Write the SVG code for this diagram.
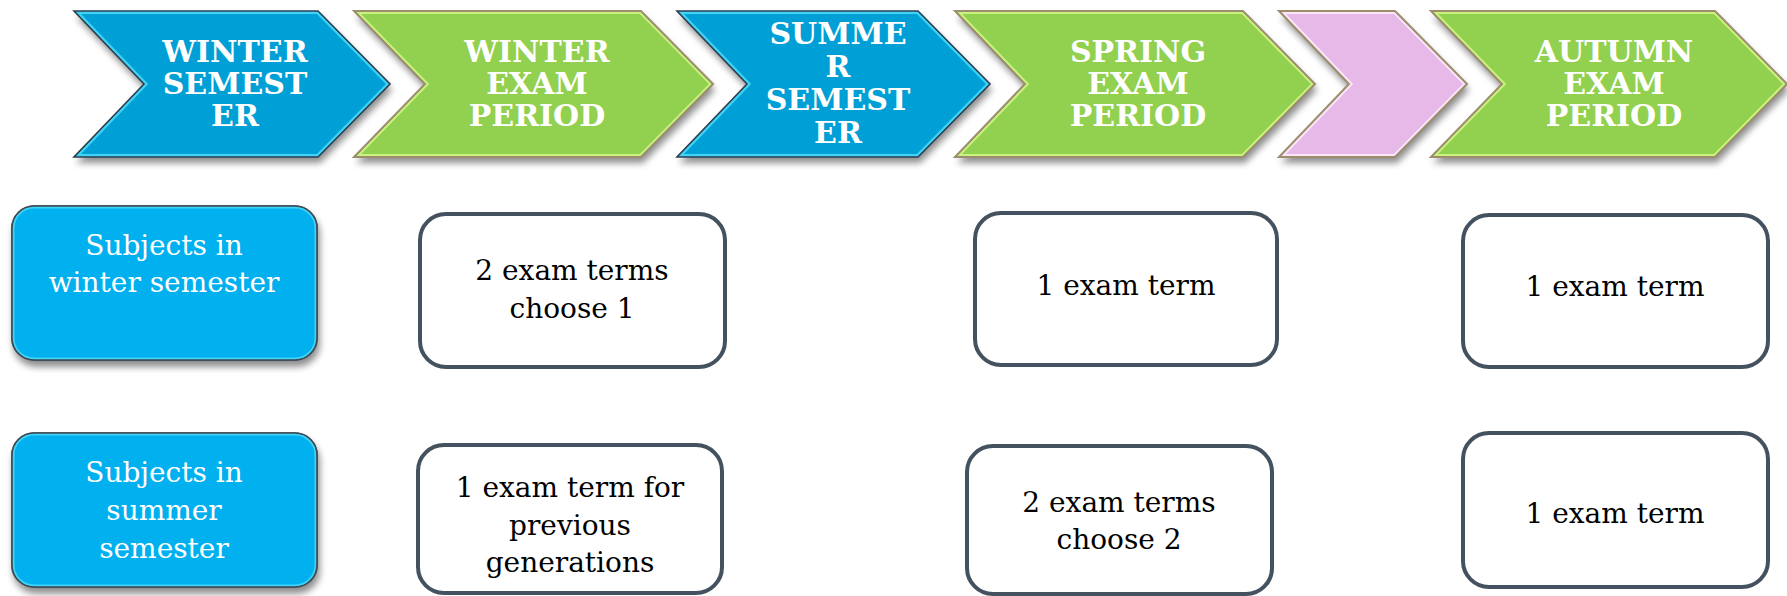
<svg xmlns="http://www.w3.org/2000/svg" width="1787" height="596" viewBox="0 0 1787 596">
<style>
.ct{font-family:'DejaVu Serif','Liberation Serif',serif;font-weight:bold;font-size:30px;fill:#ffffff;text-anchor:middle}
.bt{font-family:'DejaVu Serif','Liberation Serif',serif;font-size:28px;fill:#000000;text-anchor:middle}
.wt{font-family:'DejaVu Serif','Liberation Serif',serif;font-size:28px;fill:#ffffff;text-anchor:middle}
.blue{fill:#019fd5}
.green{fill:#92d050}
.pink{fill:#e7b9e9}
.olB{fill:none;stroke:#2b3e52;stroke-width:1.6}
.olG{fill:none;stroke:#9c8d6c;stroke-width:2}
.glB{fill:none;stroke:#3fd4f5;stroke-width:6}
.glG{fill:none;stroke:#c9f27f;stroke-width:6}
.glP{fill:none;stroke:#fbe6fb;stroke-width:6}
.wbox{fill:#ffffff;stroke:#44525f;stroke-width:4}
.bbox{fill:#00b0ef;stroke:#3f4a55;stroke-width:1.6}
</style>
<defs>
<filter id="sh" x="-10%" y="-20%" width="120%" height="150%">
<feGaussianBlur in="SourceAlpha" stdDeviation="3.5"/>
<feOffset dx="2" dy="6" result="b"/>
<feComponentTransfer><feFuncA type="linear" slope="0.45"/></feComponentTransfer>
<feMerge><feMergeNode/><feMergeNode in="SourceGraphic"/></feMerge>
</filter>
<polygon id="c1" points="74,11 318,11 390,84 318,157 74,157 144,84"/>
<polygon id="c2" points="354,11 641,11 713,84 641,157 354,157 425,84"/>
<polygon id="c3" points="677,11 918,11 990,84 918,157 677,157 747,84"/>
<polygon id="c4" points="955,11 1243,11 1315,84 1243,157 955,157 1025,84"/>
<polygon id="c5" points="1279,11 1395,11 1467,84 1395,157 1279,157 1349,84"/>
<polygon id="c6" points="1431,11 1715,11 1787,84 1715,157 1431,157 1502,84"/>
<rect id="b1" x="12" y="206" width="305" height="154" rx="22"/>
<rect id="b2" x="12" y="433" width="305" height="154" rx="22"/>
<clipPath id="k1"><use href="#c1"/></clipPath>
<clipPath id="k2"><use href="#c2"/></clipPath>
<clipPath id="k3"><use href="#c3"/></clipPath>
<clipPath id="k4"><use href="#c4"/></clipPath>
<clipPath id="k5"><use href="#c5"/></clipPath>
<clipPath id="k6"><use href="#c6"/></clipPath>
<clipPath id="kb1"><use href="#b1"/></clipPath>
<clipPath id="kb2"><use href="#b2"/></clipPath>
</defs>

<g id="chevron-winter-semester">
<use href="#c1" class="blue" filter="url(#sh)"/>
<use href="#c1" class="glB" clip-path="url(#k1)"/>
<use href="#c1" class="olB"/>
<text class="ct" x="235" y="62">WINTER<tspan x="235" dy="32">SEMEST</tspan><tspan x="235" dy="32">ER</tspan></text>
</g>
<g id="chevron-winter-exam">
<use href="#c2" class="green" filter="url(#sh)"/>
<use href="#c2" class="glG" clip-path="url(#k2)"/>
<use href="#c2" class="olG"/>
<text class="ct" x="537" y="62">WINTER<tspan x="537" dy="32">EXAM</tspan><tspan x="537" dy="32">PERIOD</tspan></text>
</g>
<g id="chevron-summer-semester">
<use href="#c3" class="blue" filter="url(#sh)"/>
<use href="#c3" class="glB" clip-path="url(#k3)"/>
<use href="#c3" class="olB"/>
<text class="ct" x="838" y="44">SUMME<tspan x="838" dy="33">R</tspan><tspan x="838" dy="33">SEMEST</tspan><tspan x="838" dy="33">ER</tspan></text>
</g>
<g id="chevron-spring-exam">
<use href="#c4" class="green" filter="url(#sh)"/>
<use href="#c4" class="glG" clip-path="url(#k4)"/>
<use href="#c4" class="olG"/>
<text class="ct" x="1138" y="62">SPRING<tspan x="1138" dy="32">EXAM</tspan><tspan x="1138" dy="32">PERIOD</tspan></text>
</g>
<g id="chevron-blank">
<use href="#c5" class="pink" filter="url(#sh)"/>
<use href="#c5" class="glP" clip-path="url(#k5)"/>
<use href="#c5" class="olG"/>
</g>
<g id="chevron-autumn-exam">
<use href="#c6" class="green" filter="url(#sh)"/>
<use href="#c6" class="glG" clip-path="url(#k6)"/>
<use href="#c6" class="olG"/>
<text class="ct" x="1614" y="62">AUTUMN<tspan x="1614" dy="32">EXAM</tspan><tspan x="1614" dy="32">PERIOD</tspan></text>
</g>

<g id="subjects-winter">
<use href="#b1" class="bbox" filter="url(#sh)"/>
<use href="#b1" class="glB" clip-path="url(#kb1)" style="stroke-width:5"/>
<use href="#b1" class="bbox" style="fill:none"/>
<text class="wt" x="164" y="255">Subjects in<tspan x="164" dy="37">winter semester</tspan></text>
</g>
<g id="subjects-summer">
<use href="#b2" class="bbox" filter="url(#sh)"/>
<use href="#b2" class="glB" clip-path="url(#kb2)" style="stroke-width:5"/>
<use href="#b2" class="bbox" style="fill:none"/>
<text class="wt" x="164" y="482">Subjects in<tspan x="164" dy="38">summer</tspan><tspan x="164" dy="38">semester</tspan></text>
</g>

<g id="winter-exam-winter-subjects">
<rect class="wbox" x="420" y="214" width="305" height="153" rx="26"/>
<text class="bt" x="572" y="280">2 exam terms<tspan x="572" dy="38">choose 1</tspan></text>
</g>
<g id="winter-exam-summer-subjects">
<rect class="wbox" x="418" y="445" width="304" height="148" rx="26"/>
<text class="bt" x="570" y="497">1 exam term for<tspan x="570" dy="38">previous</tspan><tspan x="570" dy="37">generations</tspan></text>
</g>
<g id="spring-exam-winter-subjects">
<rect class="wbox" x="975" y="213" width="302" height="152" rx="26"/>
<text class="bt" x="1126" y="295">1 exam term</text>
</g>
<g id="spring-exam-summer-subjects">
<rect class="wbox" x="967" y="446" width="305" height="148" rx="26"/>
<text class="bt" x="1119" y="512">2 exam terms<tspan x="1119" dy="37">choose 2</tspan></text>
</g>
<g id="autumn-exam-winter-subjects">
<rect class="wbox" x="1463" y="215" width="305" height="152" rx="26"/>
<text class="bt" x="1615" y="296">1 exam term</text>
</g>
<g id="autumn-exam-summer-subjects">
<rect class="wbox" x="1463" y="433" width="305" height="154" rx="26"/>
<text class="bt" x="1615" y="523">1 exam term</text>
</g>
<g id="connectors"></g>
</svg>
